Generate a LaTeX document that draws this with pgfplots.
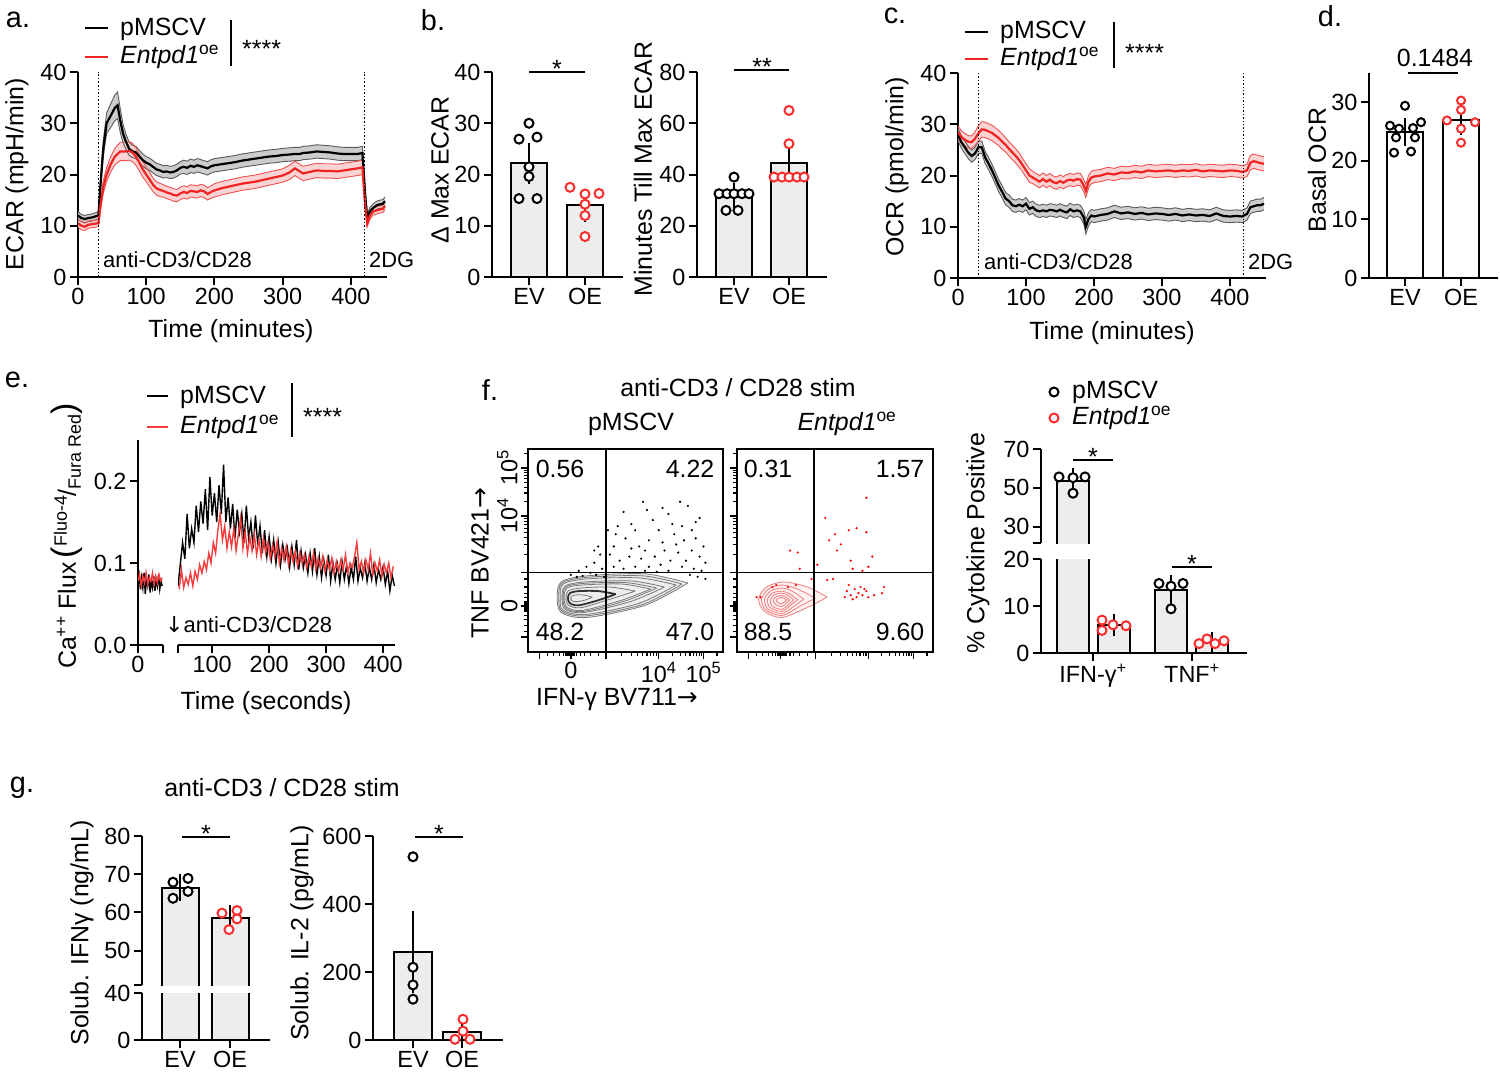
\documentclass[border=0pt]{standalone}
\usepackage{fontspec}
\setmainfont{Liberation Sans}
\newfontfamily\dv{DejaVu Sans}
\usepackage{pgfplots}
\pgfplotsset{compat=1.18}
\usepackage{pgfplotstable}
\usepgfplotslibrary{fillbetween}

\definecolor{myred}{RGB}{240,35,35}
\definecolor{ptred}{RGB}{250,45,45}
\definecolor{barfill}{RGB}{237,237,237}
\definecolor{bandgray}{RGB}{195,195,195}
\definecolor{edgegray}{RGB}{90,90,90}
\definecolor{bandred}{RGB}{249,205,205}
\definecolor{edgered}{RGB}{240,80,80}
\definecolor{cagray}{RGB}{120,120,120}
\definecolor{cared}{RGB}{238,125,125}
\definecolor{ered}{RGB}{245,60,60}

\newcommand\fP{\fontsize{29}{32}\selectfont}
\newcommand\fL{\fontsize{25}{29}\selectfont}
\newcommand\fT{\fontsize{23.5}{27}\selectfont}
\newcommand\fS{\fontsize{22}{25}\selectfont}
\newcommand\ent{\textit{Entpd1}\textsuperscript{oe}}

\pgfplotsset{
  gp/.style={scale only axis, anchor=south west,
    axis x line=bottom, axis y line=left,
    axis line style={line width=2bp,-},
    every tick/.style={line width=2bp, black},
    major tick length=8bp, tick align=outside,
    tick label style={font=\fT},
    /pgf/number format/assume math mode=true,
    clip mode=individual},
  bars/.style={ybar, bar width=#1, fill=barfill, draw=black, line width=2bp},
  obar/.style={fill=barfill, draw=black, line width=2bp, mark=none},
  errs/.style={draw=none, mark=none, forget plot, error bars/.cd, y dir=both, y explicit,
    error bar style={draw=black, solid, line width=2bp},
    error mark options={draw=black, solid, line width=2bp, mark size=9bp}},
  pts/.style={only marks, mark=*, mark size=4.5bp, mark options={fill=white, draw=#1, line width=2bp, solid}},
  flow/.style={scale only axis, anchor=south west, xmin=0,xmax=1,ymin=0,ymax=1,
    axis line style={line width=1.4bp}, tick pos=left, tick align=outside,
    every tick/.style={line width=1.2bp,black}, major tick length=7bp, minor tick length=4bp,
    xtick={0.06,0.22,0.40,0.67,0.90},
    minor xtick={0.10,0.13,0.16,0.18,0.195,0.205,0.21,0.215,0.225,0.23,0.235,0.24,0.25,0.27,0.29,0.32,0.36,0.481,0.529,0.563,0.589,0.610,0.628,0.644,0.658,0.739,0.780,0.808,0.831,0.849,0.864,0.878,0.889,0.969},
    ytick={0.074,0.227,0.39,0.67,0.906},
    minor ytick={0.10,0.13,0.16,0.18,0.20,0.205,0.21,0.215,0.22,0.235,0.24,0.245,0.25,0.27,0.29,0.32,0.36,0.481,0.529,0.563,0.589,0.610,0.628,0.644,0.658,0.741,0.783,0.812,0.835,0.854,0.869,0.883,0.895,0.977},
    yticklabel style={rotate=90, anchor=south},
    tick label style={font=\fT},
    /pgf/number format/assume math mode=true,
    clip mode=individual},
}
\tikzset{T/.style={inner sep=0pt, font=\fL}}

\pgfplotstableread{
t B bs R rs
0 12.0 0.8 10.5 0.8
5 11.5 0.7 10.0 0.8
10 11.3 0.7 9.8 0.7
15 11.5 0.7 10.2 0.7
20 11.6 0.7 10.3 0.7
25 11.8 0.7 10.4 0.7
30 12.0 0.7 10.5 0.7
33 18.0 1.0 14.0 0.9
37 25.0 1.5 17.5 1.2
42 30.0 2.0 20.0 1.3
48 31.5 2.3 22.0 1.5
54 33.0 2.5 23.5 1.6
58 33.5 2.6 24.0 1.7
62 30.5 2.3 24.5 1.8
66 28.0 1.8 24.5 1.8
70 26.5 1.5 24.5 1.8
75 25.0 1.3 24.6 1.8
80 24.5 1.2 24.3 1.8
85 24.3 1.2 23.5 1.7
90 23.5 1.2 22.3 1.6
95 22.8 1.2 21.0 1.5
100 22.3 1.2 20.0 1.4
105 22.0 1.2 19.0 1.4
110 21.5 1.2 18.0 1.3
115 21.0 1.2 17.3 1.3
120 20.8 1.2 17.0 1.3
125 20.5 1.2 16.8 1.2
130 20.6 1.2 16.5 1.2
135 20.4 1.2 16.3 1.2
140 20.5 1.2 16.0 1.2
145 20.8 1.2 15.9 1.2
150 21.3 1.2 16.3 1.2
155 21.5 1.3 16.6 1.2
160 21.3 1.3 16.4 1.2
165 21.7 1.3 16.8 1.2
170 21.5 1.3 16.7 1.2
175 21.8 1.3 16.6 1.2
180 21.6 1.3 16.9 1.2
185 21.4 1.3 16.7 1.2
190 21.2 1.3 16.2 1.2
195 21.6 1.3 16.6 1.2
200 21.8 1.3 16.9 1.3
210 22.0 1.3 17.3 1.3
220 22.2 1.3 17.6 1.3
230 22.4 1.3 17.9 1.3
240 22.7 1.3 18.2 1.3
250 22.9 1.3 18.4 1.3
260 23.1 1.3 18.6 1.3
270 23.3 1.3 18.9 1.3
280 23.5 1.3 19.2 1.3
290 23.6 1.3 19.5 1.3
300 23.8 1.3 19.8 1.3
310 23.9 1.3 20.4 1.4
318 24.0 1.3 21.2 1.4
325 24.0 1.3 20.6 1.4
330 24.2 1.3 20.2 1.4
340 24.3 1.3 20.5 1.4
350 24.5 1.3 20.8 1.4
360 24.4 1.3 20.7 1.4
370 24.3 1.3 20.7 1.4
380 24.1 1.3 20.6 1.4
390 24.0 1.3 20.8 1.4
400 24.0 1.3 21.0 1.4
410 24.0 1.3 21.2 1.4
417 24.2 1.3 21.4 1.4
421 16.0 1.0 14.0 1.0
424 11.5 0.8 10.5 0.7
428 12.8 0.8 12.0 0.7
433 13.5 0.8 12.8 0.7
438 14.0 0.8 13.0 0.7
443 14.2 0.8 13.2 0.7
447 14.3 0.8 13.3 0.7
450 14.8 0.8 13.8 0.7
}\ecar

\pgfplotstableread{
t B bs R rs
0 28.0 1.2 28.5 1.2
5 26.5 1.2 27.5 1.2
10 25.5 1.2 27.0 1.2
15 24.5 1.2 26.6 1.2
20 23.8 1.2 26.5 1.2
25 24.3 1.2 27.2 1.3
30 25.5 1.2 28.2 1.5
35 25.5 1.2 29.0 1.5
40 23.5 1.2 28.9 1.5
45 22.3 1.2 28.6 1.5
50 21.0 1.2 28.3 1.5
55 19.5 1.2 27.8 1.5
60 18.0 1.2 27.3 1.5
65 16.8 1.2 26.6 1.5
70 15.5 1.2 26.0 1.4
75 15.0 1.2 25.2 1.4
80 14.2 1.2 24.5 1.4
85 14.0 1.2 23.8 1.4
90 14.3 1.2 23.0 1.4
95 14.0 1.2 22.0 1.3
100 14.5 1.2 21.0 1.3
105 13.5 1.2 20.0 1.3
110 13.8 1.2 19.6 1.2
115 13.2 1.2 19.2 1.2
120 13.0 1.2 18.8 1.2
125 13.2 1.2 19.3 1.2
130 13.0 1.2 18.8 1.2
135 13.3 1.2 19.2 1.2
140 13.2 1.2 18.7 1.2
145 13.0 1.2 18.5 1.2
150 13.3 1.2 18.9 1.2
155 13.0 1.2 18.6 1.2
160 12.8 1.2 19.0 1.2
165 13.4 1.2 19.2 1.2
170 13.0 1.2 19.0 1.2
175 13.2 1.2 19.3 1.2
180 13.0 1.2 19.2 1.2
185 11.8 1.3 18.0 1.2
188 10.0 1.4 17.0 1.3
192 11.5 1.3 18.8 1.2
196 12.2 1.2 19.6 1.2
200 12.0 1.2 19.8 1.2
210 12.3 1.2 20.0 1.2
220 12.5 1.2 20.4 1.2
230 13.0 1.2 20.2 1.2
240 12.6 1.2 20.6 1.2
250 12.8 1.2 20.5 1.2
260 12.5 1.2 20.8 1.2
270 12.7 1.2 20.6 1.2
280 12.4 1.2 21.0 1.2
290 12.6 1.2 20.8 1.2
300 12.5 1.2 20.9 1.2
310 12.3 1.2 21.0 1.2
320 12.5 1.2 20.8 1.2
330 12.2 1.2 21.0 1.2
340 12.4 1.2 20.9 1.2
350 12.2 1.2 21.1 1.2
360 12.3 1.2 20.8 1.2
370 12.1 1.2 21.0 1.2
380 12.6 1.2 20.9 1.2
390 12.1 1.2 20.8 1.2
400 12.0 1.2 21.0 1.2
410 12.1 1.2 20.9 1.2
418 12.0 1.2 20.7 1.2
425 12.5 1.2 21.0 1.2
430 13.8 1.2 22.5 1.4
435 14.0 1.2 22.8 1.4
440 14.2 1.2 22.6 1.4
445 14.2 1.2 22.4 1.4
450 14.5 1.2 22.3 1.4
}\ocr

\begin{document}
\begin{tikzpicture}
\path (0,0) rectangle (1500bp,-1074bp);

%================ a =================
\begin{axis}[gp, clip mode=global, at={(78bp,-277bp)}, width=309bp, height=205bp,
  xmin=0, xmax=453, ymin=0, ymax=40, xtick={0,100,200,300,400}, ytick={0,10,20,30,40}]
\addplot[draw=none, name path=bu] table[x=t, y expr=\thisrow{B}+\thisrow{bs}] {\ecar};
\addplot[draw=none, name path=bl] table[x=t, y expr=\thisrow{B}-\thisrow{bs}] {\ecar};
\addplot[draw=none, name path=ru] table[x=t, y expr=\thisrow{R}+\thisrow{rs}] {\ecar};
\addplot[draw=none, name path=rl] table[x=t, y expr=\thisrow{R}-\thisrow{rs}] {\ecar};
\addplot[bandgray, fill opacity=0.85] fill between[of=bu and bl];
\addplot[bandred, fill opacity=0.85] fill between[of=ru and rl];
\addplot[edgegray, line width=0.9bp] table[x=t, y expr=\thisrow{B}+\thisrow{bs}] {\ecar};
\addplot[edgegray, line width=0.9bp] table[x=t, y expr=\thisrow{B}-\thisrow{bs}] {\ecar};
\addplot[edgered, line width=0.9bp] table[x=t, y expr=\thisrow{R}+\thisrow{rs}] {\ecar};
\addplot[edgered, line width=0.9bp] table[x=t, y expr=\thisrow{R}-\thisrow{rs}] {\ecar};
\addplot[black, line width=2.2bp] table[x=t, y=B] {\ecar};
\addplot[myred, line width=2.2bp] table[x=t, y=R] {\ecar};
\addplot[black, dotted, line width=1.6bp] coordinates {(30,0) (30,40)};
\addplot[black, dotted, line width=1.6bp] coordinates {(420,0) (420,40)};
\end{axis}
\node[T, font=\fP] at (18bp,-20bp) {a.};
\draw[black, line width=2bp] (85bp,-28bp) -- (108bp,-28bp);
\node[T, anchor=west] at (120bp,-29bp) {pMSCV};
\draw[myred, line width=2bp] (85bp,-57bp) -- (108bp,-57bp);
\node[T, anchor=west] at (120bp,-57bp) {\ent};
\draw[line width=2bp] (231bp,-20bp) -- (231bp,-66bp);
\node[T, anchor=base west] at (242bp,-57bp) {****};
\node[T, font=\fS, anchor=west] at (103bp,-260bp) {anti-CD3/CD28};
\node[T, font=\fS, anchor=west] at (369bp,-260bp) {2DG};
\node[T, rotate=90] at (17bp,-174bp) {ECAR (mpH/min)};
\node[T] at (231bp,-331bp) {Time (minutes)};

%================ b =================
\begin{axis}[gp, at={(492bp,-277bp)}, width=131bp, height=205bp,
  xmin=0, xmax=131, ymin=0, ymax=40, ytick={0,10,20,30,40}, xtick={37,93}, xticklabels={EV,OE}]
\addplot[bars=36bp] coordinates {(37,22.2) (93,14.0)};
\addplot[errs] coordinates {(37,22.2) +- (0,2.2) (93,14.0) +- (0,1.45)};
\addplot[pts=black] coordinates {(37,30) (27,26.9) (45,27.3) (37,21.5) (37,19.6) (27,15.3) (45,15.3)};
\addplot[pts=ptred] coordinates {(78,17.5) (93,16.2) (107,16.3) (93,14.2) (93,12.0) (93,7.9)};
\end{axis}
\draw[line width=2bp] (529bp,-72bp) -- (585bp,-72bp);
\node[T, anchor=base] at (557bp,-77bp) {*};
\node[T, rotate=90] at (440bp,-170bp) {Δ Max ECAR};
\node[T, font=\fP] at (433bp,-20bp) {b.};

\begin{axis}[gp, at={(697bp,-277bp)}, width=130bp, height=205bp,
  xmin=0, xmax=130, ymin=0, ymax=80, ytick={0,20,40,60,80}, xtick={37,92}, xticklabels={EV,OE}]
\addplot[bars=36bp] coordinates {(37,31.7) (92,44.6)};
\addplot[errs] coordinates {(37,31.7) +- (0,1.5) (92,44.6) +- (0,3.9)};
\addplot[pts=black] coordinates {(37,39) (22,32.5) (30,32.5) (37,32.5) (45,32.5) (52,32.5) (29,26) (41,26)};
\addplot[pts=ptred] coordinates {(92,65) (92,52) (77,39) (85,39) (92,39) (100,39) (107,39)};
\end{axis}
\draw[line width=2bp] (734bp,-70bp) -- (789bp,-70bp);
\node[T, anchor=base] at (762bp,-75bp) {**};
\node[T, rotate=90] at (643bp,-169bp) {Minutes Till Max ECAR};

%================ c =================
\begin{axis}[gp, clip mode=global, at={(958bp,-278bp)}, width=308bp, height=205bp,
  xmin=0, xmax=453, ymin=0, ymax=40, xtick={0,100,200,300,400}, ytick={0,10,20,30,40}]
\addplot[draw=none, name path=cbu] table[x=t, y expr=\thisrow{B}+\thisrow{bs}] {\ocr};
\addplot[draw=none, name path=cbl] table[x=t, y expr=\thisrow{B}-\thisrow{bs}] {\ocr};
\addplot[draw=none, name path=cru] table[x=t, y expr=\thisrow{R}+\thisrow{rs}] {\ocr};
\addplot[draw=none, name path=crl] table[x=t, y expr=\thisrow{R}-\thisrow{rs}] {\ocr};
\addplot[bandgray, fill opacity=0.85] fill between[of=cbu and cbl];
\addplot[bandred, fill opacity=0.85] fill between[of=cru and crl];
\addplot[edgegray, line width=0.9bp] table[x=t, y expr=\thisrow{B}+\thisrow{bs}] {\ocr};
\addplot[edgegray, line width=0.9bp] table[x=t, y expr=\thisrow{B}-\thisrow{bs}] {\ocr};
\addplot[edgered, line width=0.9bp] table[x=t, y expr=\thisrow{R}+\thisrow{rs}] {\ocr};
\addplot[edgered, line width=0.9bp] table[x=t, y expr=\thisrow{R}-\thisrow{rs}] {\ocr};
\addplot[black, line width=2.2bp] table[x=t, y=B] {\ocr};
\addplot[myred, line width=2.2bp] table[x=t, y=R] {\ocr};
\addplot[black, dotted, line width=1.4bp] coordinates {(30,0) (30,40)};
\addplot[black, dotted, line width=1.4bp] coordinates {(420,0) (420,40)};
\end{axis}
\node[T, font=\fP] at (895bp,-16bp) {c.};
\draw[black, line width=2bp] (965bp,-32bp) -- (988bp,-32bp);
\node[T, anchor=west] at (1000bp,-32bp) {pMSCV};
\draw[myred, line width=2bp] (965bp,-59bp) -- (988bp,-59bp);
\node[T, anchor=west] at (1000bp,-59bp) {\ent};
\draw[line width=2bp] (1114bp,-22bp) -- (1114bp,-68bp);
\node[T, anchor=base west] at (1125bp,-61bp) {****};
\node[T, font=\fS, anchor=west] at (984bp,-262bp) {anti-CD3/CD28};
\node[T, font=\fS, anchor=west] at (1248bp,-262bp) {2DG};
\node[T, rotate=90] at (897bp,-167bp) {OCR (pmol/min)};
\node[T] at (1112bp,-333bp) {Time (minutes)};

%================ d =================
\begin{axis}[gp, at={(1369bp,-278bp)}, width=129bp, height=205bp,
  xmin=0, xmax=129, ymin=0, ymax=35, ytick={0,10,20,30}, xtick={36,92}, xticklabels={EV,OE}]
\addplot[bars=36bp, fill=white] coordinates {(36,24.9) (92,26.9)};
\addplot[errs] coordinates {(36,24.9) +- (0,0.85) (92,26.9) +- (0,1.0)};
\addplot[pts=black, mark size=4bp] coordinates {(36,29.4) (21,26.0) (30,25.5) (44,25.6) (52,26.6) (27,24.0) (46,24.0) (25,21.4) (42,21.6)};
\addplot[pts=ptred, mark size=4bp] coordinates {(92,30.3) (92,28.7) (78,26.9) (106,26.6) (92,25.5) (92,23.1)};
\end{axis}
\draw[line width=2bp] (1408bp,-73bp) -- (1458bp,-73bp);
\node[T] at (1435bp,-58bp) {0.1484};
\node[T, rotate=90] at (1317bp,-170bp) {Basal OCR};
\node[T, font=\fP] at (1330bp,-16bp) {d.};

%================ e =================
\begin{axis}[gp, at={(138bp,-645bp)}, width=25bp, height=205bp,
  xmin=0, xmax=31, ymin=0, ymax=0.25, ytick={0,0.1,0.2}, yticklabels={0.0,0.1,0.2},
  xtick={0,31}, xticklabels={0,{}}]
\addplot[black, line width=1.4bp] coordinates {(0,0.075) (1.5,0.085) (3,0.068) (4.5,0.082) (6,0.070) (7.5,0.088) (9,0.062) (10.5,0.080) (12,0.072) (13.5,0.086) (15,0.064) (16.5,0.078) (18,0.070) (19.5,0.084) (21,0.066) (22.5,0.080) (24,0.072) (25.5,0.086) (27,0.068) (28.5,0.078) (30,0.072)};
\addplot[ered, line width=1.4bp] coordinates {(0,0.078) (2,0.086) (4,0.072) (6,0.084) (8,0.076) (10,0.088) (12,0.074) (14,0.082) (16,0.078) (18,0.088) (20,0.074) (22,0.084) (24,0.076) (26,0.086) (28,0.078) (30,0.082)};
\end{axis}
\begin{axis}[gp, at={(178bp,-645bp)}, width=217bp, height=205bp,
  xmin=40, xmax=421, ymin=0, ymax=0.25, axis y line=none, ytick=\empty,
  xtick={40,100,200,300,400}, xticklabels={{},100,200,300,400}]
\addplot[black, line width=1.4bp] coordinates {(40,0.072) (44,0.098) (48,0.125) (52,0.105) (56,0.160) (60,0.118) (64,0.142) (68,0.125) (72,0.170) (76,0.138) (80,0.175) (84,0.148) (88,0.190) (92,0.140) (96,0.205) (100,0.158) (104,0.185) (108,0.150) (112,0.195) (116,0.160) (120,0.220) (124,0.150) (128,0.180) (132,0.142) (136,0.172) (140,0.130) (144,0.165) (148,0.138) (152,0.160) (156,0.125) (160,0.170) (164,0.130) (168,0.150) (172,0.118) (176,0.158) (180,0.122) (184,0.145) (188,0.112) (192,0.140) (196,0.108) (200,0.132) (204,0.105) (208,0.128) (212,0.100) (216,0.125) (220,0.098) (224,0.122) (228,0.104) (232,0.118) (236,0.095) (240,0.120) (244,0.098) (248,0.128) (252,0.092) (256,0.115) (260,0.094) (264,0.110) (268,0.088) (272,0.112) (276,0.090) (280,0.118) (284,0.086) (288,0.108) (292,0.082) (296,0.104) (300,0.085) (304,0.110) (308,0.078) (312,0.100) (316,0.080) (320,0.098) (324,0.076) (328,0.102) (332,0.080) (336,0.097) (340,0.075) (344,0.095) (348,0.080) (352,0.108) (356,0.078) (360,0.094) (364,0.082) (368,0.100) (372,0.078) (376,0.095) (380,0.080) (384,0.098) (388,0.076) (392,0.092) (396,0.080) (400,0.095) (404,0.074) (408,0.090) (412,0.066) (416,0.085) (420,0.072)};
\addplot[ered, line width=1.4bp] coordinates {(42,0.068) (46,0.092) (50,0.070) (54,0.082) (58,0.074) (62,0.088) (66,0.072) (70,0.090) (74,0.080) (78,0.098) (82,0.088) (86,0.102) (90,0.092) (94,0.112) (98,0.100) (102,0.125) (106,0.112) (110,0.140) (114,0.160) (118,0.128) (122,0.145) (126,0.118) (130,0.138) (134,0.120) (138,0.142) (142,0.115) (146,0.135) (150,0.155) (154,0.118) (158,0.138) (162,0.112) (166,0.132) (170,0.115) (174,0.135) (178,0.110) (182,0.128) (186,0.108) (190,0.130) (194,0.112) (198,0.125) (202,0.105) (206,0.122) (210,0.108) (214,0.126) (218,0.100) (222,0.118) (226,0.104) (230,0.120) (234,0.098) (238,0.116) (242,0.102) (246,0.114) (250,0.096) (254,0.112) (258,0.100) (262,0.110) (266,0.094) (270,0.108) (274,0.096) (278,0.112) (282,0.092) (286,0.106) (290,0.094) (294,0.108) (298,0.090) (302,0.104) (306,0.092) (310,0.106) (314,0.088) (318,0.102) (322,0.090) (326,0.104) (330,0.092) (334,0.110) (338,0.088) (342,0.100) (346,0.094) (350,0.108) (354,0.125) (358,0.092) (362,0.102) (366,0.088) (370,0.104) (374,0.092) (378,0.112) (382,0.086) (386,0.100) (390,0.090) (394,0.104) (398,0.084) (402,0.098) (406,0.088) (410,0.100) (414,0.082) (418,0.096)};
\end{axis}
\node[T, font=\fP] at (17bp,-380bp) {e.};
\draw[black, line width=2bp] (147bp,-396bp) -- (168bp,-396bp);
\node[T, anchor=west] at (180bp,-397bp) {pMSCV};
\draw[ered, line width=2bp] (147bp,-427bp) -- (168bp,-427bp);
\node[T, anchor=west] at (180bp,-427bp) {\ent};
\draw[line width=2bp] (292bp,-383bp) -- (292bp,-437bp);
\node[T, anchor=base west] at (303bp,-425bp) {****};
\node[T, font=\fS, anchor=west] at (165bp,-625bp) {{\dv ↓}anti-CD3/CD28};
\node[T, rotate=90] at (67bp,-536bp) {Ca\textsuperscript{++} Flux\,{\fontsize{34}{34}\selectfont(}\raisebox{9bp}{\fontsize{18}{18}\selectfont Fluo-4}/\raisebox{-5bp}{\fontsize{18}{18}\selectfont Fura Red}{\fontsize{34}{34}\selectfont)}};
\node[T] at (266bp,-703bp) {Time (seconds)};

%================ f flow =================
\begin{axis}[flow, at={(528bp,-652bp)}, width=195bp, height=203bp,
  xticklabels={{},0,{},10\textsuperscript{4},10\textsuperscript{5}},
  yticklabels={{},0,{},10\textsuperscript{4},10\textsuperscript{5}}]
\addplot[cagray, line width=0.8bp, fill=black!7, smooth] coordinates {(0.82,0.34) (0.60,0.385) (0.30,0.375) (0.17,0.345) (0.15,0.27) (0.17,0.195) (0.30,0.17) (0.60,0.23) (0.82,0.34)};
\addplot[cagray, line width=0.8bp, smooth] coordinates {(0.79,0.335) (0.59,0.375) (0.30,0.368) (0.175,0.34) (0.158,0.27) (0.175,0.20) (0.30,0.178) (0.59,0.235) (0.79,0.335)};
\addplot[cagray, line width=0.8bp, smooth] coordinates {(0.76,0.33) (0.57,0.365) (0.30,0.36) (0.18,0.335) (0.165,0.27) (0.18,0.205) (0.30,0.185) (0.57,0.24) (0.76,0.33)};
\addplot[cagray, line width=0.8bp, smooth] coordinates {(0.70,0.32) (0.53,0.35) (0.29,0.345) (0.19,0.325) (0.175,0.27) (0.19,0.21) (0.29,0.195) (0.53,0.25) (0.70,0.32)};
\addplot[cagray, line width=0.8bp, smooth] coordinates {(0.66,0.315) (0.50,0.342) (0.285,0.338) (0.195,0.32) (0.18,0.269) (0.195,0.215) (0.285,0.20) (0.50,0.252) (0.66,0.315)};
\addplot[cagray, line width=0.8bp, smooth] coordinates {(0.63,0.31) (0.48,0.335) (0.28,0.33) (0.20,0.315) (0.185,0.268) (0.20,0.22) (0.28,0.205) (0.48,0.255) (0.63,0.31)};
\addplot[cagray, line width=0.8bp, smooth] coordinates {(0.55,0.30) (0.42,0.32) (0.27,0.315) (0.205,0.30) (0.195,0.267) (0.205,0.232) (0.27,0.218) (0.42,0.26) (0.55,0.30)};
\addplot[black!80, line width=1.8bp, smooth] coordinates {(0.45,0.285) (0.36,0.30) (0.26,0.30) (0.215,0.29) (0.205,0.266) (0.215,0.24) (0.26,0.23) (0.36,0.255) (0.45,0.285)};
\addplot[cagray, line width=0.8bp, smooth] coordinates {(0.33,0.27) (0.29,0.28) (0.25,0.282) (0.225,0.275) (0.218,0.265) (0.225,0.252) (0.25,0.248) (0.29,0.255) (0.33,0.27)};
\addplot[only marks, mark=*, mark size=0.9bp, black] coordinates {(0.59,0.74) (0.61,0.70) (0.69,0.71) (0.72,0.68) (0.78,0.74) (0.82,0.72) (0.88,0.66) (0.49,0.69) (0.53,0.63) (0.46,0.62) (0.67,0.60) (0.75,0.58) (0.80,0.55) (0.86,0.56) (0.90,0.52) (0.62,0.55) (0.57,0.52) (0.50,0.56) (0.44,0.52) (0.70,0.50) (0.77,0.49) (0.84,0.50) (0.65,0.47) (0.58,0.46) (0.52,0.47) (0.47,0.45) (0.42,0.48) (0.73,0.45) (0.81,0.45) (0.88,0.47) (0.91,0.44) (0.68,0.43) (0.62,0.42) (0.55,0.42) (0.49,0.41) (0.44,0.42) (0.79,0.42) (0.85,0.41) (0.89,0.40) (0.72,0.40) (0.60,0.40) (0.66,0.395) (0.87,0.37) (0.91,0.36) (0.83,0.38) (0.38,0.41) (0.34,0.44) (0.30,0.42) (0.26,0.40) (0.37,0.48) (0.36,0.52) (0.34,0.50) (0.22,0.38) (0.25,0.37) (0.28,0.375) (0.32,0.39) (0.35,0.38) (0.39,0.37) (0.55,0.60) (0.64,0.65) (0.79,0.62) (0.86,0.64) (0.74,0.63) (0.45,0.58) (0.60,0.50) (0.69,0.54) (0.53,0.51) (0.76,0.53) (0.84,0.60) (0.41,0.60)};
\addplot[black, line width=1.2bp] coordinates {(0.40,0) (0.40,1)};
\addplot[black, line width=1.2bp] coordinates {(0,0.39) (1,0.39)};
\end{axis}
\begin{axis}[flow, at={(737bp,-652bp)}, width=196bp, height=203bp,
  xticklabels={}, yticklabels={}]
\addplot[cared, line width=0.8bp, fill=red!5, smooth] coordinates {(0.46,0.27) (0.36,0.32) (0.24,0.345) (0.15,0.32) (0.11,0.26) (0.14,0.20) (0.23,0.17) (0.36,0.22) (0.46,0.27)};
\addplot[cared, line width=0.8bp, smooth] coordinates {(0.40,0.265) (0.32,0.305) (0.235,0.33) (0.16,0.31) (0.125,0.258) (0.15,0.205) (0.23,0.18) (0.32,0.225) (0.40,0.265)};
\addplot[cared, line width=0.8bp, smooth] coordinates {(0.34,0.26) (0.29,0.295) (0.232,0.315) (0.17,0.30) (0.14,0.257) (0.16,0.21) (0.23,0.19) (0.29,0.225) (0.34,0.26)};
\addplot[cared, line width=0.8bp, smooth] coordinates {(0.31,0.258) (0.27,0.285) (0.23,0.30) (0.18,0.29) (0.155,0.256) (0.17,0.218) (0.23,0.20) (0.27,0.228) (0.31,0.258)};
\addplot[cared, line width=0.8bp, smooth] coordinates {(0.29,0.257) (0.26,0.278) (0.23,0.29) (0.19,0.282) (0.17,0.256) (0.18,0.225) (0.23,0.21) (0.26,0.232) (0.29,0.257)};
\addplot[cared, line width=0.8bp, smooth] coordinates {(0.27,0.256) (0.25,0.27) (0.23,0.278) (0.20,0.272) (0.185,0.256) (0.195,0.235) (0.23,0.224) (0.25,0.24) (0.27,0.256)};
\addplot[cared, line width=0.8bp, smooth] coordinates {(0.255,0.256) (0.24,0.265) (0.228,0.268) (0.21,0.264) (0.20,0.256) (0.208,0.244) (0.228,0.238) (0.24,0.246) (0.255,0.256)};
\addplot[only marks, mark=*, mark size=0.9bp, red] coordinates {(0.45,0.66) (0.50,0.58) (0.57,0.60) (0.61,0.61) (0.66,0.59) (0.47,0.55) (0.51,0.50) (0.53,0.53) (0.69,0.47) (0.67,0.42) (0.58,0.45) (0.59,0.41) (0.64,0.40) (0.66,0.76) (0.27,0.50) (0.31,0.49) (0.32,0.41) (0.41,0.43) (0.38,0.36) (0.46,0.355) (0.49,0.36) (0.56,0.30) (0.58,0.28) (0.60,0.31) (0.62,0.29) (0.64,0.28) (0.61,0.27) (0.66,0.30) (0.63,0.32) (0.59,0.26) (0.67,0.27) (0.57,0.33) (0.65,0.31) (0.70,0.28) (0.74,0.29) (0.75,0.32) (0.55,0.27) (0.12,0.27) (0.10,0.27) (0.20,0.33) (0.18,0.32) (0.26,0.32) (0.30,0.33)};
\addplot[black, line width=1.2bp] coordinates {(0.393,0) (0.393,1)};
\addplot[black, line width=1.2bp] coordinates {(0,0.39) (1,0.39)};
\end{axis}
\node[T] at (560bp,-469bp) {0.56};
\node[T] at (690bp,-469bp) {4.22};
\node[T] at (560bp,-632bp) {48.2};
\node[T] at (690bp,-632bp) {47.0};
\node[T] at (768bp,-469bp) {0.31};
\node[T] at (900bp,-469bp) {1.57};
\node[T] at (768bp,-632bp) {88.5};
\node[T] at (900bp,-632bp) {9.60};
\node[T, font=\fP] at (490bp,-390bp) {f.};
\node[T] at (738bp,-388bp) {anti-CD3 / CD28 stim};
\node[T] at (631bp,-424bp) {pMSCV};
\node[T] at (847bp,-424bp) {\ent};
\node[T, rotate=90] at (480bp,-563bp) {TNF BV421{\dv →}};
\node[T] at (617bp,-700bp) {IFN-γ BV711{\dv →}};

%================ f bars =================
\begin{axis}[gp, at={(1041bp,-543bp)}, width=206bp, height=94bp,
  xmin=0, xmax=206, ymin=21.5, ymax=70, axis x line=none, xtick=\empty,
  ytick={21.5,30,50,70}, yticklabels={{},30,50,70}]
\addplot[obar] coordinates {(16,0) (16,53.4) (48,53.4) (48,0)};
\addplot[errs] coordinates {(32,53.4) +- (0,2.1)};
\addplot[pts=black] coordinates {(18,55.6) (32,55.2) (44,55.6) (32,47.2)};
\end{axis}
\begin{axis}[gp, at={(1041bp,-653bp)}, width=206bp, height=94bp,
  xmin=0, xmax=206, ymin=0, ymax=20, ytick={0,10,20},
  xtick={52,151}, xticklabels={IFN-γ\textsuperscript{+},TNF\textsuperscript{+}}]
\addplot[bars=32bp] coordinates {(32,53.4) (73,5.9) (130,13.3) (171,2.4)};
\addplot[errs] coordinates {(73,5.9) +- (0,0.45) (130,13.3) +- (0,1.3) (171,2.4) +- (0,0.25)};
\addplot[pts=black] coordinates {(118,14.8) (130,14.2) (142,14.8) (130,9.4)};
\addplot[pts=ptred] coordinates {(61,7.0) (61,4.8) (72,6.0) (85,5.8) (158,2.0) (166,3.0) (174,2.0) (183,2.6)};
\end{axis}
\draw[line width=2bp] (1073bp,-460bp) -- (1113bp,-460bp);
\node[T, anchor=base] at (1093bp,-465bp) {*};
\draw[line width=2bp] (1172bp,-567bp) -- (1212bp,-567bp);
\node[T, anchor=base] at (1192bp,-572bp) {*};
\draw[line width=2bp] (1054bp,-392bp) circle (4.5bp);
\node[T, anchor=west] at (1072bp,-392bp) {pMSCV};
\draw[ptred, line width=2bp] (1054bp,-418bp) circle (4.5bp);
\node[T, anchor=west] at (1072bp,-418bp) {\ent};
\node[T, rotate=90] at (978bp,-543bp) {\% Cytokine Positive};

%================ g =================
\node[T, font=\fP] at (22bp,-788bp) {g.};
\node[T] at (282bp,-788bp) {anti-CD3 / CD28 stim};
\begin{axis}[gp, at={(142bp,-985bp)}, width=128bp, height=149bp,
  xmin=0, xmax=128, ymin=41, ymax=80, axis x line=none, xtick=\empty,
  ytick={41,50,60,70,80}, yticklabels={{},50,60,70,80}]
\addplot[obar] coordinates {(19.5,0) (19.5,66.5) (56.5,66.5) (56.5,0)};
\addplot[obar] coordinates {(69.5,0) (69.5,58.5) (106.5,58.5) (106.5,0)};
\addplot[errs] coordinates {(38,66.5) +- (0,1.2) (88,58.5) +- (0,1.1)};
\addplot[pts=black] coordinates {(31,67.9) (46,68.9) (31,63.7) (46,65.5)};
\addplot[pts=ptred] coordinates {(80,59.8) (95,60.5) (95,58.3) (87,55.5)};
\end{axis}
\begin{axis}[gp, at={(142bp,-1040bp)}, width=128bp, height=47bp,
  xmin=0, xmax=128, ymin=0, ymax=40, ytick={0,40}, yticklabels={0,40},
  xtick={38,88}, xticklabels={EV,OE}]
\addplot[bars=37bp] coordinates {(38,66.5) (88,58.5)};
\end{axis}
\draw[line width=2bp] (182bp,-837bp) -- (230bp,-837bp);
\node[T, anchor=base] at (206bp,-842bp) {*};
\node[T, rotate=90] at (82bp,-933bp) {Solub. IFNγ (ng/mL)};

\begin{axis}[gp, at={(373bp,-1040bp)}, width=130bp, height=204bp,
  xmin=0, xmax=130, ymin=0, ymax=600, ytick={0,200,400,600},
  xtick={40,89}, xticklabels={EV,OE}]
\addplot[bars=38bp] coordinates {(40,258.75) (89,22.75)};
\addplot[errs] coordinates {(40,258.75) +- (0,95.4) (89,22.75) +- (0,14)};
\addplot[pts=black] coordinates {(40,539) (40,214) (40,162) (40,120)};
\addplot[pts=ptred] coordinates {(90,61) (90,26) (82,2) (97,2)};
\end{axis}
\draw[line width=2bp] (415bp,-837bp) -- (463bp,-837bp);
\node[T, anchor=base] at (439bp,-842bp) {*};
\node[T, rotate=90] at (302bp,-933bp) {Solub. IL-2 (pg/mL)};
\pgfresetboundingbox
\useasboundingbox (0,0) rectangle (1500bp,-1074bp);
\end{tikzpicture}
\end{document}
